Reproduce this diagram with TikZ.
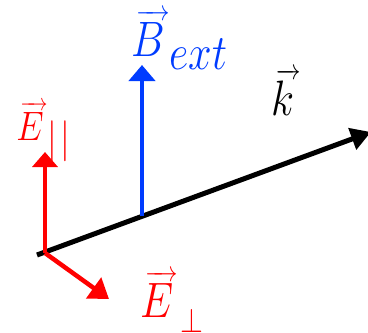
\documentclass[tikz,border=0pt]{standalone}
\usetikzlibrary{arrows.meta}
\definecolor{bblue}{RGB}{0,60,255}
\definecolor{rred}{RGB}{255,0,0}
\newcommand\myvec[1]{\vbox{\ialign{##\crcr\hskip0.12em{\fontsize{14.4}{14.4}\selectfont\rightarrowfill}\crcr\noalign{\kern0.6pt\nointerlineskip}$\displaystyle{#1}\mkern2mu$\crcr}}}
\begin{document}
\begin{tikzpicture}[x=1pt,y=-1pt,
  vec/.style={line width=4.5pt},
  lbl/.style={inner sep=0pt,anchor=base west,font=\fontsize{24.88}{30}\selectfont,scale=2,xscale=0.85},
  slbl/.style={inner sep=0pt,anchor=base west,font=\fontsize{24.88}{30}\selectfont,scale=1.65,xscale=0.85}]
\useasboundingbox (0,0) rectangle (368,333);
\coordinate (Ks) at (37,255);
\coordinate (Ke) at (371,132);
\coordinate (O) at (45,253);
\coordinate (Bs) at (142,216);
\coordinate (Be) at (142,65);
\coordinate (Pe) at (45,152);
\coordinate (Qe) at (109,299);
\draw[vec,black,line width=5pt,-{Triangle[length=20pt,width=22pt]}] (Ks) -- (Ke);
\draw[vec,bblue,-{Triangle[length=16pt,width=26pt]}] (Bs) -- (Be);
\draw[vec,rred,-{Triangle[length=15pt,width=25pt]}] (O) -- (Pe);
\draw[vec,rred,-{Triangle[length=19pt,width=25pt]}] (O) -- (Qe);
\node[lbl,text=bblue] (B) at (131,56) {$\myvec{B}_{\textstyle ext}$};
\node[lbl,text=black] (k) at (271,115) {$\myvec{k}$};
\node[slbl,text=rred] (Ep) at (16,140) {$\myvec{E}\raisebox{-7pt}{$|\mkern1.5mu|$}$};
\node[lbl,text=rred] (Eq) at (140,317) {$\myvec{E}\mkern1mu\lower7.75pt\hbox{$\scriptscriptstyle\perp$}$};
\end{tikzpicture}
\end{document}
